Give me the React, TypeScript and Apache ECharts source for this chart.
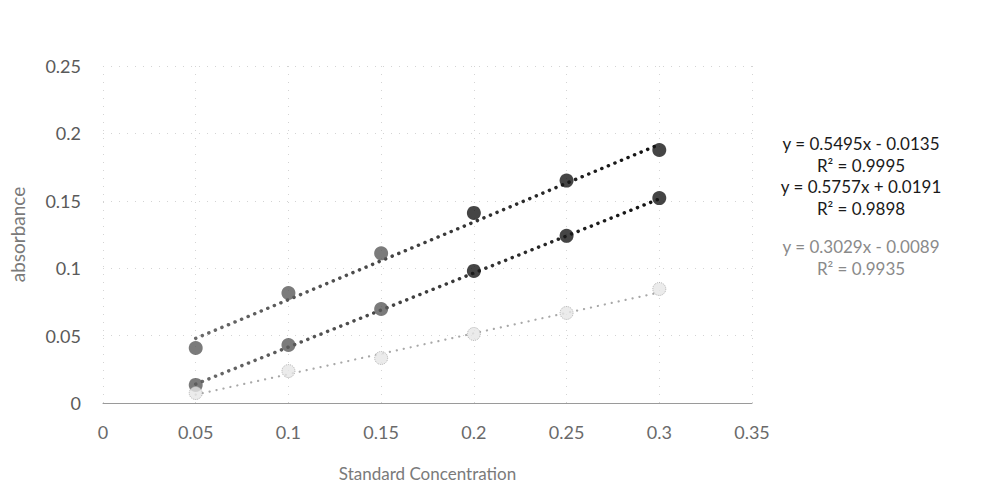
import React, { useEffect, useRef } from "react";
import * as echarts from "echarts";

const xValues = [0.05, 0.1, 0.15, 0.2, 0.25, 0.3];
const topSeries = [0.0408, 0.0816, 0.111, 0.141, 0.165, 0.1877];
const midSeries = [0.0134, 0.043, 0.0697, 0.098, 0.124, 0.152];
const lowSeries = [0.0074, 0.0237, 0.0334, 0.0512, 0.0668, 0.0846];
const trendX = [0.05, 0.3];
const topTrend = [0.0479, 0.1918];
const midTrend = [0.014, 0.1514];
const lowTrend = [0.0062, 0.0820];
const equations = [
  { eq: "y = 0.5495x - 0.0135", r2: "R² = 0.9995", color: "#1a1a1a" },
  { eq: "y = 0.5757x + 0.0191", r2: "R² = 0.9898", color: "#1a1a1a" },
  { eq: "y = 0.3029x - 0.0089", r2: "R² = 0.9935", color: "#8a8a8a" },
];
const eqY = [143, 186, 246];
const xTitle = "Standard Concentration";
const yTitle = "absorbance";

const FONT = "Lato, 'Open Sans', sans-serif";

function pts(ys: number[], xs: number[]) {
  return ys.map((y, i) => [xs[i], y]);
}

export default function App() {
  const ref = useRef<HTMLDivElement>(null);
  useEffect(() => {
    if (!ref.current) return;
    const chart = echarts.init(ref.current, null, { renderer: "svg" });
    const grad = () =>
      new echarts.graphic.LinearGradient(0, 0, 1, 0, [
        { offset: 0, color: "#6a6a6a" },
        { offset: 1, color: "#101010" },
      ]);
    const darkColor = (i: number) => (i < 3 ? "#5a5a5a" : "#161616");
    const graphics: any[] = [];
    equations.forEach((e, i) => {
      graphics.push({
        type: "text",
        x: 861,
        y: eqY[i],
        style: { text: e.eq, fill: e.color, font: `17px ${FONT}`, align: "center", verticalAlign: "middle" },
      });
      graphics.push({
        type: "text",
        x: 861,
        y: eqY[i] + 22,
        style: { text: e.r2, fill: e.color, font: `17px ${FONT}`, align: "center", verticalAlign: "middle" },
      });
    });
    chart.setOption({
      animation: false,
      backgroundColor: "#ffffff",
      grid: { left: 103, right: 251, top: 66, bottom: 87, containLabel: false },
      xAxis: {
        type: "value",
        min: 0,
        max: 0.35,
        interval: 0.05,
        name: xTitle,
        nameLocation: "middle",
        nameGap: 62,
        nameTextStyle: { color: "#7a7a7a", fontSize: 17, fontFamily: FONT },
        axisLine: { show: true, lineStyle: { color: "#9a9a9a", width: 1 } },
        axisTick: { show: false },
        axisLabel: { color: "#6a6a6a", fontSize: 18, fontFamily: FONT, margin: 20 },
        splitLine: { show: true, lineStyle: { color: "#d4d4d4", type: [1, 7], width: 1 } },
      },
      yAxis: {
        type: "value",
        min: 0,
        max: 0.25,
        interval: 0.05,
        name: yTitle,
        nameLocation: "middle",
        nameGap: 76,
        nameTextStyle: { color: "#7a7a7a", fontSize: 19, fontFamily: FONT },
        axisLine: { show: false },
        axisTick: { show: false },
        axisLabel: { color: "#5a5a5a", fontSize: 18, fontFamily: FONT, margin: 22 },
        splitLine: { show: true, lineStyle: { color: "#d4d4d4", type: [1, 7], width: 1 } },
      },
      graphic: graphics,
      series: [
        {
          type: "line",
          data: pts(topTrend, trendX),
          symbol: "none",
          lineStyle: { color: grad(), width: 3.5, type: [0.1, 7], cap: "round" },
          silent: true,
          z: 2,
        },
        {
          type: "line",
          data: pts(midTrend, trendX),
          symbol: "none",
          lineStyle: { color: grad(), width: 3.5, type: [0.1, 7], cap: "round" },
          silent: true,
          z: 2,
        },
        {
          type: "line",
          data: pts(lowTrend, trendX),
          symbol: "none",
          lineStyle: { color: "#a8a8a8", width: 2.2, type: [0.1, 7], cap: "round" },
          silent: true,
          z: 2,
        },
        {
          type: "scatter",
          symbolSize: 14,
          data: topSeries.map((y, i) => ({ value: [xValues[i], y], itemStyle: { color: darkColor(i) } })),
          z: 3,
        },
        {
          type: "scatter",
          symbolSize: 14,
          data: midSeries.map((y, i) => ({ value: [xValues[i], y], itemStyle: { color: darkColor(i) } })),
          z: 3,
        },
        {
          type: "scatter",
          symbolSize: 13,
          data: pts(lowSeries, xValues),
          itemStyle: { color: "#e6e6e6", borderColor: "#a0a0a0", borderWidth: 1, borderType: "dotted" },
          z: 3,
        },
      ],
    });
    return () => chart.dispose();
  }, []);
  return (
    <div
      ref={ref}
      style={{ position: "fixed", left: 0, top: 0, width: 1003, height: 490, background: "#fff" }}
    />
  );
}
